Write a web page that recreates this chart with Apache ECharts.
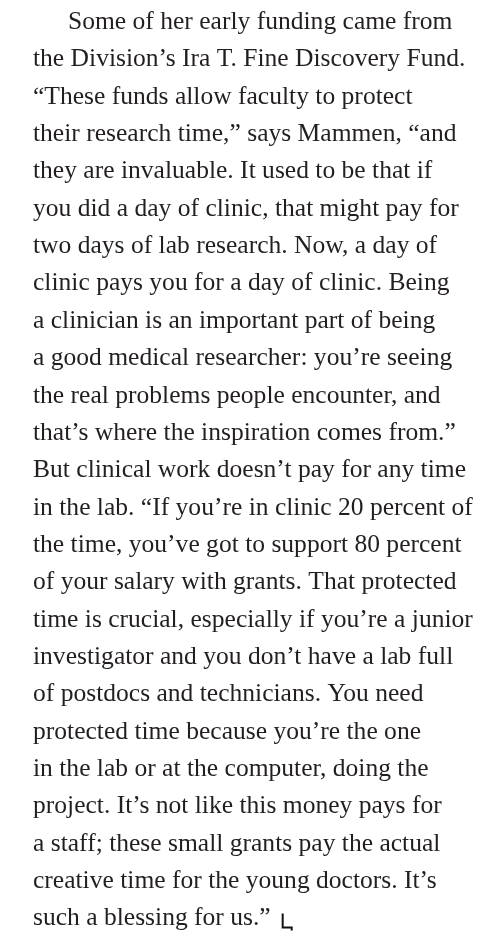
<!DOCTYPE html>
<html>
<head>
<meta charset="utf-8">
<script src="https://cdn.jsdelivr.net/npm/echarts@6/dist/echarts.min.js"></script>
<style>
html,body{margin:0;padding:0;background:#ffffff;}
#chart{width:484px;height:932px;}
</style>
</head>
<body>
<div id="chart"></div>
<script>
// Paragraph content, one entry per printed line
var paragraphLines = [
  "Some of her early funding came from",
  "the Division\u2019s Ira T. Fine Discovery Fund.",
  "\u201CThese funds allow faculty to protect",
  "their research time,\u201D says Mammen, \u201Cand",
  "they are invaluable. It used to be that if",
  "you did a day of clinic, that might pay for",
  "two days of lab research. Now, a day of",
  "clinic pays you for a day of clinic. Being",
  "a clinician is an important part of being",
  "a good medical researcher: you\u2019re seeing",
  "the real problems people encounter, and",
  "that\u2019s where the inspiration comes from.\u201D",
  "But clinical work doesn\u2019t pay for any time",
  "in the lab. \u201CIf you\u2019re in clinic 20 percent of",
  "the time, you\u2019ve got to support 80 percent",
  "of your salary with grants. That protected",
  "time is crucial, especially if you\u2019re a junior",
  "investigator and you don\u2019t have a lab full",
  "of postdocs and technicians. You need",
  "protected time because you\u2019re the one",
  "in the lab or at the computer, doing the",
  "project. It\u2019s not like this money pays for",
  "a staff; these small grants pay the actual",
  "creative time for the young doctors. It\u2019s",
  "such a blessing for us.\u201D"
];
var indentedLines = [0];

var FONT_FAMILY = '"Liberation Serif", "Times New Roman", serif';
var TEXT_COLOR = '#231f20';
var LEFT = 33, INDENT = 35, FIRST_BASELINE = 31, LINE_STEP = 37.35;
var FIT_LINE = 13, FIT_WIDTH = 440;

var ctx = document.createElement('canvas').getContext('2d');
ctx.font = '100px ' + FONT_FAMILY;
var fs = 100 * FIT_WIDTH / ctx.measureText(paragraphLines[FIT_LINE]).width;
ctx.font = fs + 'px ' + FONT_FAMILY;
var fontStr = fs.toFixed(2) + 'px ' + FONT_FAMILY;

var elements = [];
paragraphLines.forEach(function (t, i) {
  var x = LEFT + (indentedLines.indexOf(i) >= 0 ? INDENT : 0);
  var baseline = FIRST_BASELINE + i * LINE_STEP;
  elements.push({
    type: 'text',
    x: x,
    y: baseline - 0.34 * fs,
    style: {
      text: t,
      font: fontStr,
      fill: TEXT_COLOR,
      align: 'left',
      verticalAlign: 'middle'
    }
  });
});

// end-of-article mark after the last line
var lastIdx = paragraphLines.length - 1;
var lastW = ctx.measureText(paragraphLines[lastIdx]).width;
var mx = LEFT + lastW + 12;
var mb = FIRST_BASELINE + lastIdx * LINE_STEP;
elements.push({
  type: 'polyline',
  shape: { points: [[mx, mb - 14], [mx, mb], [mx + 9, mb], [mx + 9, mb + 3]] },
  style: { stroke: '#111111', lineWidth: 2, fill: null }
});

var chart = echarts.init(document.getElementById('chart'), null, { renderer: 'canvas' });
chart.setOption({
  backgroundColor: '#ffffff',
  animation: false,
  graphic: { elements: elements }
});
</script>
</body>
</html>
